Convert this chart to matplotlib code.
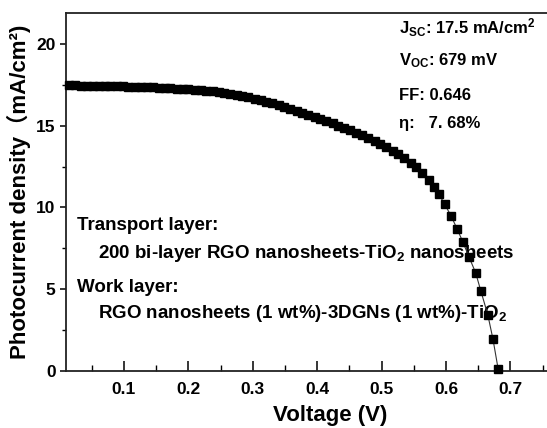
import matplotlib
matplotlib.use("Agg")
import matplotlib.pyplot as plt
from matplotlib.ticker import MultipleLocator

plt.rcParams['font.family'] = ['Liberation Sans', 'Noto Sans CJK SC', 'DejaVu Sans']
plt.rcParams['font.weight'] = 'bold'
plt.rcParams['mathtext.fontset'] = 'custom'
plt.rcParams['mathtext.rm'] = 'Liberation Sans:bold'
plt.rcParams['mathtext.it'] = 'Liberation Sans:bold'
plt.rcParams['mathtext.bf'] = 'Liberation Sans:bold'

voltage = [0.014, 0.024, 0.033, 0.042, 0.052, 0.061, 0.070, 0.079, 0.089, 0.098,
           0.107, 0.117, 0.126, 0.135, 0.145, 0.154, 0.163, 0.172, 0.182, 0.191,
           0.200, 0.210, 0.219, 0.228, 0.238, 0.247, 0.256, 0.265, 0.275, 0.284,
           0.293, 0.303, 0.312, 0.321, 0.330, 0.340, 0.349, 0.358, 0.368, 0.377,
           0.386, 0.396, 0.405, 0.414, 0.424, 0.433, 0.442, 0.451, 0.461, 0.470,
           0.479, 0.489, 0.498, 0.507, 0.517, 0.526, 0.535, 0.545, 0.553, 0.562,
           0.573, 0.581, 0.589, 0.598, 0.608, 0.617, 0.626, 0.636, 0.646, 0.654,
           0.665, 0.673, 0.681]
current = [17.48, 17.47, 17.46, 17.46, 17.45, 17.44, 17.43, 17.42, 17.41, 17.40,
           17.39, 17.38, 17.37, 17.35, 17.34, 17.32, 17.31, 17.29, 17.27, 17.25,
           17.23, 17.21, 17.18, 17.15, 17.11, 17.07, 17.02, 16.96, 16.90, 16.83,
           16.75, 16.66, 16.57, 16.47, 16.36, 16.24, 16.12, 16.00, 15.88, 15.76,
           15.64, 15.52, 15.40, 15.27, 15.14, 15.01, 14.87, 14.73, 14.58, 14.43,
           14.26, 14.08, 13.90, 13.70, 13.48, 13.25, 13.00, 12.74, 12.45, 12.09,
           11.68, 11.27, 10.80, 10.19, 9.47, 8.70, 7.90, 6.94, 6.00, 4.90,
           3.41, 1.92, 0.10]

x_ticks = [0.1, 0.2, 0.3, 0.4, 0.5, 0.6, 0.7]
x_ticklabels = ['0.1', '0.2', '0.3', '0.4', '0.5', '0.6', '0.7']
y_ticks = [0, 5, 10, 15, 20]

fig = plt.figure(figsize=(5.47, 4.28), dpi=100)
W, H = 547, 428
left_px, top_px, bottom_px = 66, 13, 370.7
ax = fig.add_axes([left_px / W, (H - bottom_px) / H, 508.8 / W, (bottom_px - top_px) / H])

ax.plot(voltage, current, color='#333333', lw=0.8, marker='s', ms=5.2,
        mfc='black', mec='black', clip_on=False, zorder=3)

ax.set_xlim(0.01, 0.80)
ax.set_ylim(0, 21.9)
ax.set_xticks(x_ticks)
ax.set_xticklabels(x_ticklabels)
ax.set_yticks(y_ticks)
ax.xaxis.set_minor_locator(MultipleLocator(0.05))
ax.yaxis.set_minor_locator(MultipleLocator(2.5))
ax.tick_params(axis='x', which='major', direction='in', length=7, width=1.1, labelsize=12.5, pad=8)
ax.tick_params(axis='x', which='minor', direction='in', length=4, width=1.0)
ax.tick_params(axis='y', which='major', direction='out', length=4.5, width=1.1, labelsize=12.5, pad=3)
ax.tick_params(axis='y', which='minor', direction='out', length=3, width=1.0)
for s in ax.spines.values():
    s.set_linewidth(1.3)
    s.set_color('#222222')

ax.set_xlabel('Voltage (V)', fontsize=16, fontweight='bold')
ax.xaxis.set_label_coords((330 - left_px) / 508.8, -(415 - bottom_px) / (bottom_px - top_px))
ax.xaxis.label.set_va('center')
ax.set_ylabel('Photocurrent density（mA/cm²)', fontsize=16, fontweight='bold', labelpad=4)

def px_text(x, y, s, size=12):
    ax.text(x / W, 1 - y / H, s, fontsize=size, fontweight='bold', va='center', ha='left',
            transform=fig.transFigure, zorder=2)

px_text(399, 28, r'J$_{\mathrm{SC}}$: 17.5 mA/cm$^{\mathrm{2}}$', 12)
px_text(399, 61, r'V$_{\mathrm{OC}}$: 679 mV', 12)
px_text(399, 96, 'FF: 0.646', 12)
px_text(399, 124, 'η:   7. 68%', 12)

px_text(77, 225, 'Transport layer:', 13.5)
px_text(98, 253, r'200 bi-layer RGO nanosheets-TiO$_{\mathrm{2}}$ nanosheets', 13.5)
px_text(77, 287, 'Work layer:', 13.5)
px_text(98, 313, r'RGO nanosheets (1 wt%)-3DGNs (1 wt%)-TiO$_{\mathrm{2}}$', 13.5)

fig.savefig('out.png', dpi=100)
